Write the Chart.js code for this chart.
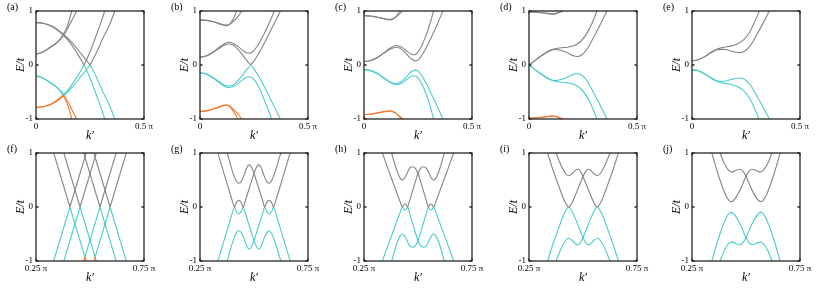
<!DOCTYPE html>
<html><head><meta charset="utf-8">
<script src="https://cdn.jsdelivr.net/npm/chart.js@4.4.1/dist/chart.umd.min.js"></script>
<style>
html,body{margin:0;padding:0;background:#fff;width:830px;height:288px;overflow:hidden;position:relative;}
canvas{position:absolute;}
.lab{position:absolute;font-family:'Liberation Serif','Times New Roman',serif;font-size:10px;line-height:10px;color:#000;}
</style></head><body>
<script>
// ---------- tick values / labels ----------
const yTicks = [-1, 0, 1];
const yTickLabels = ['-1', '0', '1'];
const xTicksTop = [0, 0.5];
const xTickLabelsTop = ['0', '0.5 \u03c0'];
const xTicksBot = [0.25, 0.75];
const xTickLabelsBot = ['0.25 \u03c0', '0.75 \u03c0'];
const panelLetters = ['(a)','(b)','(c)','(d)','(e)','(f)','(g)','(h)','(i)','(j)'];

// ---------- panel (a) ----------
const a_L1a = [[0,0.785],[0.04,0.765],[0.08,0.70],[0.125,0.56],[0.16,0.40],[0.19,0.22],[0.222,0],[0.25,-0.24],[0.28,-0.56],[0.30,-0.78],[0.318,-1.0]];
const a_L1b = [[0,0.785],[0.04,0.77],[0.08,0.71],[0.13,0.56],[0.17,0.4],[0.21,0.2],[0.25,0],[0.28,-0.23],[0.31,-0.5],[0.34,-0.74],[0.365,-1.0]];
const a_L2a = [[0,0.2],[0.03,0.24],[0.065,0.33],[0.1,0.43],[0.125,0.56],[0.145,0.72],[0.166,1.0]];
const a_L2b = [[0,0.2],[0.03,0.235],[0.065,0.32],[0.1,0.42],[0.13,0.56],[0.16,0.78],[0.188,1.0]];
const a_L3a = [[0,-0.785],[0.04,-0.765],[0.08,-0.70],[0.125,-0.56],[0.16,-0.40],[0.19,-0.22],[0.222,0],[0.25,0.24],[0.28,0.56],[0.30,0.78],[0.318,1.0]];
const a_L3b = [[0,-0.785],[0.04,-0.77],[0.08,-0.71],[0.13,-0.56],[0.17,-0.4],[0.21,-0.2],[0.25,0],[0.28,0.23],[0.31,0.5],[0.34,0.74],[0.365,1.0]];
const a_L4a = [[0,-0.2],[0.03,-0.24],[0.065,-0.33],[0.1,-0.43],[0.125,-0.56],[0.145,-0.72],[0.166,-1.0]];
const a_L4b = [[0,-0.2],[0.03,-0.235],[0.065,-0.32],[0.1,-0.42],[0.13,-0.56],[0.16,-0.78],[0.188,-1.0]];

// ---------- panel (b) ----------
const b_P1a = [[0,0.834],[0.04,0.82],[0.08,0.775],[0.1,0.745],[0.12,0.725],[0.135,0.75],[0.15,0.83],[0.16,0.9],[0.169,1.0]];
const b_P1b = [[0,0.834],[0.04,0.822],[0.08,0.782],[0.12,0.74],[0.14,0.76],[0.16,0.83],[0.178,0.91],[0.192,1.0]];
const b_P2a = [[0,0.145],[0.03,0.17],[0.06,0.24],[0.09,0.33],[0.115,0.4],[0.133,0.42],[0.155,0.4],[0.18,0.33],[0.205,0.25],[0.227,0.218],[0.245,0.25],[0.27,0.38],[0.3,0.6],[0.325,0.82],[0.344,1.0]];
const b_P2b = [[0,0.145],[0.03,0.165],[0.06,0.23],[0.09,0.31],[0.115,0.375],[0.135,0.39],[0.155,0.365],[0.18,0.27],[0.205,0.14],[0.222,0.06],[0.234,0.01],[0.245,0.05],[0.27,0.2],[0.3,0.42],[0.34,0.74],[0.372,1.0]];
const b_C2a = [[0,-0.145],[0.03,-0.17],[0.06,-0.24],[0.09,-0.33],[0.115,-0.4],[0.133,-0.42],[0.155,-0.4],[0.18,-0.33],[0.205,-0.25],[0.227,-0.218],[0.245,-0.25],[0.27,-0.39],[0.295,-0.62],[0.315,-0.82],[0.332,-1.0]];
const b_C2b = [[0,-0.145],[0.03,-0.165],[0.06,-0.23],[0.09,-0.31],[0.115,-0.375],[0.135,-0.39],[0.155,-0.365],[0.18,-0.27],[0.205,-0.14],[0.222,-0.06],[0.234,-0.01],[0.245,-0.05],[0.27,-0.2],[0.3,-0.42],[0.34,-0.74],[0.372,-1.0]];
const b_O1a = [[0,-0.86],[0.04,-0.84],[0.08,-0.785],[0.1,-0.755],[0.117,-0.735],[0.135,-0.76],[0.15,-0.83],[0.163,-0.91],[0.175,-1.0]];
const b_O1b = [[0,-0.86],[0.04,-0.845],[0.08,-0.795],[0.12,-0.75],[0.14,-0.77],[0.16,-0.84],[0.178,-0.92],[0.192,-1.0]];

// ---------- panel (c) ----------
const c_Q1a = [[0,0.914],[0.04,0.9],[0.08,0.865],[0.118,0.834],[0.135,0.85],[0.15,0.9],[0.165,1.0]];
const c_Q1b = [[0,0.914],[0.04,0.902],[0.08,0.872],[0.12,0.845],[0.14,0.87],[0.16,0.93],[0.177,1.0]];
const c_Q2a = [[0,0.065],[0.03,0.085],[0.06,0.14],[0.09,0.22],[0.12,0.31],[0.15,0.36],[0.175,0.33],[0.2,0.25],[0.22,0.2],[0.234,0.19],[0.25,0.24],[0.27,0.38],[0.29,0.58],[0.305,0.76],[0.322,1.0]];
const c_Q2b = [[0,0.065],[0.03,0.08],[0.06,0.13],[0.09,0.21],[0.12,0.29],[0.15,0.33],[0.175,0.29],[0.2,0.19],[0.22,0.11],[0.238,0.077],[0.255,0.11],[0.28,0.26],[0.31,0.5],[0.34,0.76],[0.365,1.0]];
const c_C2a = [[0,-0.085],[0.03,-0.105],[0.06,-0.16],[0.09,-0.24],[0.12,-0.32],[0.15,-0.366],[0.175,-0.34],[0.2,-0.26],[0.22,-0.21],[0.234,-0.2],[0.25,-0.24],[0.27,-0.37],[0.29,-0.56],[0.305,-0.74],[0.322,-1.0]];
const c_C2b = [[0,-0.085],[0.03,-0.1],[0.06,-0.15],[0.09,-0.23],[0.12,-0.31],[0.15,-0.345],[0.175,-0.3],[0.2,-0.2],[0.22,-0.12],[0.238,-0.095],[0.255,-0.13],[0.28,-0.28],[0.31,-0.52],[0.34,-0.77],[0.365,-1.0]];
const c_O1a = [[0,-0.92],[0.04,-0.905],[0.08,-0.87],[0.118,-0.846],[0.14,-0.87],[0.158,-0.93],[0.172,-1.0]];
const c_O1b = [[0,-0.92],[0.04,-0.907],[0.08,-0.878],[0.12,-0.857],[0.145,-0.89],[0.165,-0.95],[0.18,-1.0]];

// ---------- panel (d) ----------
const d_R1a = [[0,0.985],[0.04,0.975],[0.08,0.955],[0.105,0.94],[0.125,0.95],[0.14,0.975],[0.152,1.0]];
const d_R1b = [[0,0.985],[0.04,0.978],[0.08,0.96],[0.11,0.95],[0.13,0.96],[0.15,0.985],[0.16,1.0]];
const d_R2a = [[0,0],[0.03,0.09],[0.06,0.18],[0.09,0.26],[0.12,0.3],[0.15,0.32],[0.18,0.33],[0.21,0.36],[0.24,0.44],[0.27,0.6],[0.295,0.8],[0.314,1.0]];
const d_R2b = [[0,0],[0.03,0.09],[0.06,0.175],[0.09,0.25],[0.12,0.29],[0.15,0.27],[0.18,0.22],[0.205,0.17],[0.224,0.157],[0.245,0.19],[0.27,0.3],[0.3,0.52],[0.33,0.75],[0.361,1.0]];
const d_C2a = [[0,0],[0.03,-0.09],[0.06,-0.18],[0.09,-0.26],[0.12,-0.3],[0.15,-0.32],[0.18,-0.33],[0.21,-0.36],[0.24,-0.44],[0.27,-0.6],[0.295,-0.8],[0.314,-1.0]];
const d_C2b = [[0,0],[0.03,-0.09],[0.06,-0.175],[0.09,-0.25],[0.12,-0.29],[0.15,-0.27],[0.18,-0.22],[0.205,-0.17],[0.224,-0.157],[0.245,-0.19],[0.27,-0.3],[0.3,-0.52],[0.33,-0.75],[0.361,-1.0]];
const d_O1a = [[0,-0.985],[0.04,-0.975],[0.08,-0.955],[0.105,-0.94],[0.125,-0.95],[0.14,-0.975],[0.152,-1.0]];
const d_O1b = [[0,-0.985],[0.04,-0.978],[0.08,-0.96],[0.11,-0.95],[0.13,-0.96],[0.15,-0.985],[0.16,-1.0]];

// ---------- panel (e) ----------
const e_S1a = [[0,0.077],[0.03,0.1],[0.06,0.16],[0.09,0.24],[0.12,0.3],[0.15,0.33],[0.18,0.35],[0.21,0.39],[0.24,0.47],[0.27,0.63],[0.29,0.8],[0.312,1.0]];
const e_S1b = [[0,0.077],[0.03,0.098],[0.06,0.155],[0.09,0.23],[0.12,0.285],[0.15,0.29],[0.18,0.26],[0.205,0.235],[0.22,0.23],[0.24,0.25],[0.27,0.36],[0.3,0.56],[0.33,0.78],[0.358,1.0]];
const e_C1a = [[0,-0.09],[0.03,-0.11],[0.06,-0.17],[0.09,-0.25],[0.12,-0.31],[0.15,-0.34],[0.18,-0.36],[0.21,-0.4],[0.24,-0.48],[0.27,-0.64],[0.29,-0.81],[0.31,-1.0]];
const e_C1b = [[0,-0.09],[0.03,-0.108],[0.06,-0.165],[0.09,-0.24],[0.12,-0.295],[0.15,-0.3],[0.18,-0.27],[0.205,-0.245],[0.22,-0.24],[0.24,-0.26],[0.27,-0.37],[0.3,-0.57],[0.33,-0.79],[0.358,-1.0]];

// ---------- panel (f) ----------
const f_A1 = [[0.332,1],[0.407,0],[0.4765,-0.927],[0.482,-1]];
const f_B1 = [[0.332,-1],[0.407,0],[0.482,1]];
const f_A2 = [[0.379,1],[0.454,0],[0.5235,-0.927],[0.529,-1]];
const f_B2 = [[0.379,-1],[0.454,0],[0.529,1]];
const f_A3 = [[0.471,1],[0.546,0],[0.621,-1]];
const f_B3 = [[0.471,-1],[0.4765,-0.927],[0.546,0],[0.621,1]];
const f_A4 = [[0.518,1],[0.593,0],[0.668,-1]];
const f_B4 = [[0.518,-1],[0.5235,-0.927],[0.593,0],[0.668,1]];

// ---------- panel (g) ----------
const g_GA = [[0.333,1],[0.355,0.7],[0.38,0.37],[0.4,0.11],[0.41,0],[0.416,0.06],[0.423,0.105],[0.43,0.125],[0.437,0.105],[0.444,0.06],[0.45,0],[0.46,0.12],[0.48,0.37],[0.5,0.62],[0.512,0.74],[0.522,0.78],[0.532,0.74],[0.545,0.6],[0.558,0.48],[0.57,0.44],[0.582,0.49],[0.6,0.68],[0.624,1.0]];
const g_GB = [[0.376,1],[0.39,0.8],[0.405,0.6],[0.418,0.48],[0.43,0.44],[0.442,0.48],[0.455,0.6],[0.468,0.74],[0.478,0.78],[0.488,0.74],[0.5,0.62],[0.52,0.37],[0.54,0.12],[0.55,0],[0.556,0.06],[0.563,0.105],[0.57,0.125],[0.577,0.105],[0.584,0.06],[0.59,0],[0.6,0.11],[0.62,0.37],[0.645,0.7],[0.667,1.0]];
const g_CA = [[0.333,-1],[0.355,-0.7],[0.38,-0.37],[0.4,-0.11],[0.41,0],[0.416,-0.06],[0.423,-0.105],[0.43,-0.125],[0.437,-0.105],[0.444,-0.06],[0.45,0],[0.46,-0.12],[0.48,-0.37],[0.5,-0.62],[0.512,-0.74],[0.522,-0.78],[0.532,-0.74],[0.545,-0.6],[0.558,-0.48],[0.57,-0.44],[0.582,-0.49],[0.6,-0.68],[0.624,-1.0]];
const g_CB = [[0.376,-1],[0.39,-0.8],[0.405,-0.6],[0.418,-0.48],[0.43,-0.44],[0.442,-0.48],[0.455,-0.6],[0.468,-0.74],[0.478,-0.78],[0.488,-0.74],[0.5,-0.62],[0.52,-0.37],[0.54,-0.12],[0.55,0],[0.556,-0.06],[0.563,-0.105],[0.57,-0.125],[0.577,-0.105],[0.584,-0.06],[0.59,0],[0.6,-0.11],[0.62,-0.37],[0.645,-0.7],[0.667,-1.0]];

// ---------- panel (h) ----------
const h_GA = [[0.335,1],[0.36,0.72],[0.385,0.45],[0.405,0.23],[0.418,0.09],[0.428,0],[0.434,0.04],[0.44,0.055],[0.446,0.04],[0.452,0],[0.46,0.1],[0.475,0.3],[0.49,0.5],[0.5,0.62],[0.513,0.72],[0.527,0.745],[0.54,0.71],[0.555,0.59],[0.565,0.52],[0.573,0.5],[0.582,0.53],[0.6,0.7],[0.622,1.0]];
const h_GB = [[0.378,1],[0.4,0.7],[0.418,0.53],[0.427,0.5],[0.435,0.52],[0.445,0.59],[0.46,0.71],[0.473,0.745],[0.487,0.72],[0.5,0.62],[0.51,0.5],[0.525,0.3],[0.54,0.1],[0.548,0],[0.554,0.04],[0.56,0.055],[0.566,0.04],[0.572,0],[0.582,0.09],[0.595,0.23],[0.615,0.45],[0.64,0.72],[0.665,1.0]];
const h_CA = [[0.335,-1],[0.36,-0.72],[0.385,-0.45],[0.405,-0.23],[0.418,-0.09],[0.428,0],[0.434,-0.04],[0.44,-0.055],[0.446,-0.04],[0.452,0],[0.46,-0.1],[0.475,-0.3],[0.49,-0.5],[0.5,-0.62],[0.513,-0.72],[0.527,-0.745],[0.54,-0.71],[0.555,-0.59],[0.565,-0.52],[0.573,-0.5],[0.582,-0.53],[0.6,-0.7],[0.622,-1.0]];
const h_CB = [[0.378,-1],[0.4,-0.7],[0.418,-0.53],[0.427,-0.5],[0.435,-0.52],[0.445,-0.59],[0.46,-0.71],[0.473,-0.745],[0.487,-0.72],[0.5,-0.62],[0.51,-0.5],[0.525,-0.3],[0.54,-0.1],[0.548,0],[0.554,-0.04],[0.56,-0.055],[0.566,-0.04],[0.572,0],[0.582,-0.09],[0.595,-0.23],[0.615,-0.45],[0.64,-0.72],[0.665,-1.0]];

// ---------- panel (i) ----------
const i_GA = [[0.336,1],[0.36,0.7],[0.385,0.42],[0.405,0.2],[0.42,0.07],[0.434,0],[0.448,0.07],[0.465,0.22],[0.485,0.42],[0.5,0.56],[0.512,0.66],[0.523,0.7],[0.535,0.68],[0.55,0.62],[0.566,0.58],[0.58,0.62],[0.6,0.76],[0.625,1.0]];
const i_GB = [[0.375,1],[0.4,0.76],[0.42,0.62],[0.434,0.58],[0.45,0.62],[0.465,0.68],[0.477,0.7],[0.488,0.66],[0.5,0.56],[0.515,0.42],[0.535,0.22],[0.552,0.07],[0.566,0],[0.58,0.07],[0.595,0.2],[0.615,0.42],[0.64,0.7],[0.664,1.0]];
const i_CA = [[0.336,-1],[0.36,-0.7],[0.385,-0.42],[0.405,-0.2],[0.42,-0.07],[0.434,0],[0.448,-0.07],[0.465,-0.22],[0.485,-0.42],[0.5,-0.56],[0.512,-0.66],[0.523,-0.7],[0.535,-0.68],[0.55,-0.62],[0.566,-0.58],[0.58,-0.62],[0.6,-0.76],[0.625,-1.0]];
const i_CB = [[0.375,-1],[0.4,-0.76],[0.42,-0.62],[0.434,-0.58],[0.45,-0.62],[0.465,-0.68],[0.477,-0.7],[0.488,-0.66],[0.5,-0.56],[0.515,-0.42],[0.535,-0.22],[0.552,-0.07],[0.566,0],[0.58,-0.07],[0.595,-0.2],[0.615,-0.42],[0.64,-0.7],[0.664,-1.0]];

// ---------- panel (j) ----------
const j_GA = [[0.342,1],[0.365,0.68],[0.39,0.38],[0.41,0.19],[0.422,0.12],[0.432,0.1],[0.442,0.12],[0.46,0.22],[0.48,0.38],[0.5,0.57],[0.512,0.65],[0.527,0.7],[0.54,0.69],[0.555,0.66],[0.568,0.65],[0.58,0.68],[0.6,0.8],[0.62,1.0]];
const j_GB = [[0.38,1],[0.4,0.8],[0.42,0.68],[0.432,0.65],[0.445,0.66],[0.46,0.69],[0.473,0.7],[0.488,0.65],[0.5,0.57],[0.52,0.38],[0.54,0.22],[0.558,0.12],[0.568,0.1],[0.578,0.12],[0.59,0.19],[0.61,0.38],[0.635,0.68],[0.658,1.0]];
const j_CA = [[0.342,-1],[0.365,-0.68],[0.39,-0.38],[0.41,-0.19],[0.422,-0.12],[0.432,-0.1],[0.442,-0.12],[0.46,-0.22],[0.48,-0.38],[0.5,-0.57],[0.512,-0.65],[0.527,-0.7],[0.54,-0.69],[0.555,-0.66],[0.568,-0.65],[0.58,-0.68],[0.6,-0.8],[0.62,-1.0]];
const j_CB = [[0.38,-1],[0.4,-0.8],[0.42,-0.68],[0.432,-0.65],[0.445,-0.66],[0.46,-0.69],[0.473,-0.7],[0.488,-0.65],[0.5,-0.57],[0.52,-0.38],[0.54,-0.22],[0.558,-0.12],[0.568,-0.1],[0.578,-0.12],[0.59,-0.19],[0.61,-0.38],[0.635,-0.68],[0.658,-1.0]];

// ---------- styles ----------
const G = '#858585', C = '#4dcccc', O = '#ee7d36';
const FONT = "'Liberation Serif','Times New Roman',serif";
const BOX = 108, PADL = 36, PADT = 11, PADR = 14, XH = 31;

// colour breaks: [k upper bound, colour]
const topPanels = [
  {left:36, curves:[[a_L2a,[[9,G]]],[a_L2b,[[9,G]]],[a_L1a,[[0.222,G],[9,C]]],[a_L1b,[[0.25,G],[9,C]]],
    [a_L3a,[[0.125,O],[0.222,C],[9,G]]],[a_L3b,[[0.13,O],[0.25,C],[9,G]]],[a_L4a,[[0.125,C],[9,O]]],[a_L4b,[[0.13,C],[9,O]]]]},
  {left:200, curves:[[b_P1a,[[9,G]]],[b_P1b,[[9,G]]],[b_P2a,[[9,G]]],[b_P2b,[[9,G]]],[b_C2a,[[9,C]]],[b_C2b,[[9,C]]],[b_O1a,[[9,O]]],[b_O1b,[[9,O]]]]},
  {left:364, curves:[[c_Q1a,[[9,G]]],[c_Q1b,[[9,G]]],[c_Q2a,[[9,G]]],[c_Q2b,[[9,G]]],[c_C2a,[[9,C]]],[c_C2b,[[9,C]]],[c_O1a,[[9,O]]],[c_O1b,[[9,O]]]]},
  {left:529, curves:[[d_R1a,[[9,G]]],[d_R1b,[[9,G]]],[d_R2a,[[9,G]]],[d_R2b,[[9,G]]],[d_C2a,[[9,C]]],[d_C2b,[[9,C]]],[d_O1a,[[9,O]]],[d_O1b,[[9,O]]]]},
  {left:692, curves:[[e_S1a,[[9,G]]],[e_S1b,[[9,G]]],[e_C1a,[[9,C]]],[e_C1b,[[9,C]]]]}
];
const botPanels = [
  {left:36, straight:true, curves:[[f_A1,[[0.407,G],[0.4765,C],[9,O]]],[f_B1,[[0.407,C],[9,G]]],[f_A2,[[0.454,G],[0.5235,C],[9,O]]],[f_B2,[[0.454,C],[9,G]]],
    [f_A3,[[0.546,G],[9,C]]],[f_B3,[[0.4765,O],[0.546,C],[9,G]]],[f_A4,[[0.593,G],[9,C]]],[f_B4,[[0.5235,O],[0.593,C],[9,G]]]]},
  {left:200, curves:[[g_GA,[[9,G]]],[g_GB,[[9,G]]],[g_CA,[[9,C]]],[g_CB,[[9,C]]]]},
  {left:364, curves:[[h_GA,[[9,G]]],[h_GB,[[9,G]]],[h_CA,[[9,C]]],[h_CB,[[9,C]]]]},
  {left:529, curves:[[i_GA,[[9,G]]],[i_GB,[[9,G]]],[i_CA,[[9,C]]],[i_CB,[[9,C]]]]},
  {left:692, curves:[[j_GA,[[9,G]]],[j_GB,[[9,G]]],[j_CA,[[9,C]]],[j_CB,[[9,C]]]]}
];
topPanels.forEach(p => { p.top = 11; p.xr = [0, 0.5]; p.xt = xTicksTop; p.xl = xTickLabelsTop; });
botPanels.forEach(p => { p.top = 153; p.xr = [0.25, 0.75]; p.xt = xTicksBot; p.xl = xTickLabelsBot; });

function colorAt(br, x) { for (const [k, c] of br) if (x < k) return c; return br[br.length - 1][1]; }

const framePlugin = {
  id: 'frame',
  afterDatasetsDraw(chart) {
    const {ctx, chartArea: a, scales: {x, y}} = chart;
    ctx.save();
    ctx.strokeStyle = '#262626';
    ctx.lineWidth = 1.3;
    ctx.strokeRect(a.left, a.top, a.right - a.left, a.bottom - a.top);
    const L = 2.5;
    ctx.beginPath();
    y.ticks.forEach(t => {
      const py = y.getPixelForValue(t.value);
      ctx.moveTo(a.left, py); ctx.lineTo(a.left + L, py);
      ctx.moveTo(a.right, py); ctx.lineTo(a.right - L, py);
    });
    x.ticks.forEach(t => {
      const px = x.getPixelForValue(t.value);
      ctx.moveTo(px, a.bottom); ctx.lineTo(px, a.bottom - L);
      ctx.moveTo(px, a.top); ctx.lineTo(px, a.top + L);
    });
    ctx.stroke();
    ctx.restore();
  }
};

[...topPanels, ...botPanels].forEach((p, idx) => {
  const cv = document.createElement('canvas');
  cv.width = PADL + BOX + PADR; cv.height = PADT + BOX + XH;
  cv.style.left = (p.left - PADL) + 'px';
  cv.style.top = (p.top - PADT) + 'px';
  document.body.appendChild(cv);

  const lab = document.createElement('div');
  lab.className = 'lab';
  lab.textContent = panelLetters[idx];
  lab.style.left = (p.left - 29) + 'px';
  lab.style.top = (p.top - 9) + 'px';
  document.body.appendChild(lab);

  new Chart(cv, {
    type: 'line',
    data: {
      datasets: p.curves.map(([pts, br]) => ({
        data: pts.map(([x, y]) => ({x, y})),
        borderColor: br[0][1],
        segment: { borderColor: c => colorAt(br, (c.p0.parsed.x + c.p1.parsed.x) / 2) },
        borderWidth: 1.1,
        pointRadius: 0,
        fill: false,
        tension: 0,
        cubicInterpolationMode: p.straight ? 'default' : 'monotone'
      }))
    },
    options: {
      responsive: false, animation: false, events: [],
      layout: { padding: { top: PADT, right: PADR, left: 0, bottom: 0 } },
      plugins: { legend: { display: false }, tooltip: { enabled: false } },
      scales: {
        x: {
          type: 'linear', min: p.xr[0], max: p.xr[1],
          afterBuildTicks: s => { s.ticks = p.xt.map(v => ({value: v})); },
          afterFit: s => { s.height = XH; },
          ticks: { callback: (v, i) => p.xl[i], font: {family: FONT, size: 9}, color: '#000', padding: 2, maxRotation: 0, autoSkip: false },
          grid: { display: false, drawTicks: false },
          border: { display: false },
          title: { display: true, text: 'k\u2032', color: '#000', font: {family: FONT, style: 'italic', size: 12}, padding: {top: 0, bottom: 7} }
        },
        y: {
          type: 'linear', min: -1, max: 1,
          afterBuildTicks: s => { s.ticks = yTicks.map(v => ({value: v})); },
          afterFit: s => { s.width = PADL; },
          ticks: { callback: (v, i) => yTickLabels[i], font: {family: FONT, size: 9}, color: '#000', padding: 3, autoSkip: false },
          grid: { display: false, drawTicks: false },
          border: { display: false },
          title: { display: true, text: 'E/t', color: '#000', font: {family: FONT, style: 'italic', size: 12}, padding: {top: 14, bottom: 0} }
        }
      }
    },
    plugins: [framePlugin]
  });
});
</script>
</body></html>
